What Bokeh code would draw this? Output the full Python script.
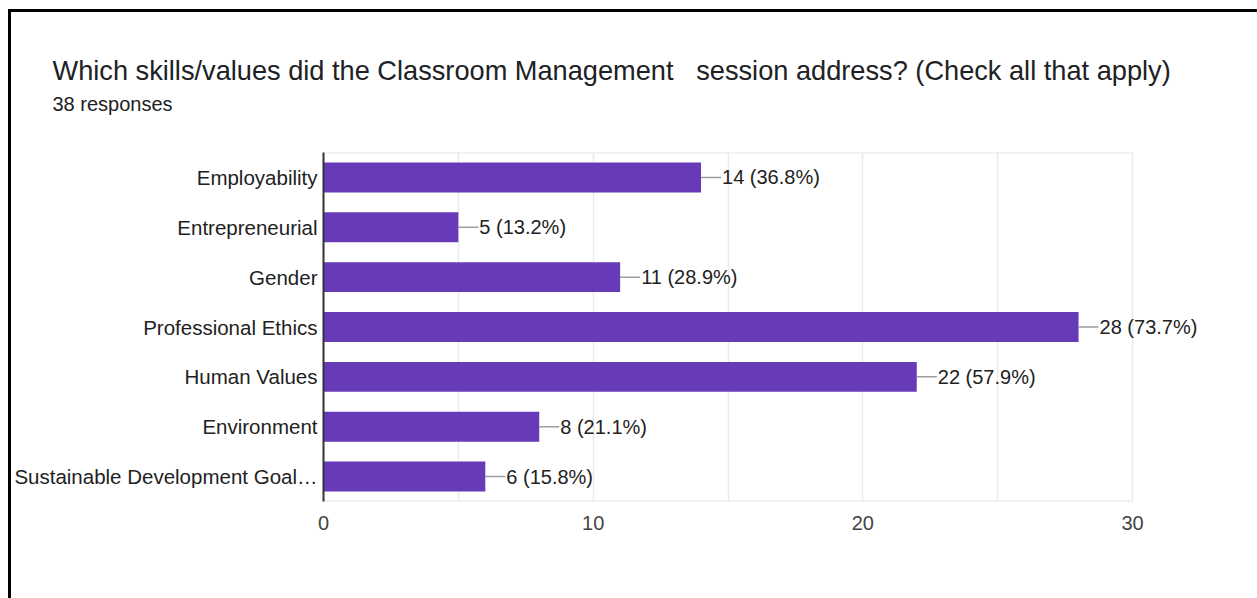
from bokeh.plotting import figure
from bokeh.models import Range1d, FactorRange, FixedTicker, Title, ColumnDataSource
from bokeh.layouts import column
from bokeh.embed import file_html
from bokeh.resources import INLINE
from bokeh.core.properties import value

categories = ["Employability", "Entrepreneurial", "Gender", "Professional Ethics",
              "Human Values", "Environment", "Sustainable Development Goal\u2026"]
counts = [14, 5, 11, 28, 22, 8, 6]
percents = [36.8, 13.2, 28.9, 73.7, 57.9, 21.1, 15.8]
x_ticks = [0, 10, 20, 30]
grid_ticks = [0, 5, 10, 15, 20, 25, 30]
title_text = "Which skills/values did the Classroom Management \u00a0 session address? (Check all that apply)"
subtitle_text = "38 responses"

FONT = "Liberation Sans"
PX_PER_UNIT = 809 / 30.0
labels = [f"{c} ({p:.1f}%)" for c, p in zip(counts, percents)]
src = ColumnDataSource(dict(cat=categories, cnt=counts, lab=labels,
                            x1=[c + 20 / PX_PER_UNIT for c in counts],
                            xt=[c + 21 / PX_PER_UNIT for c in counts]))

frame_w = 1246 - 312
p = figure(width=1246, height=586, output_backend="svg", toolbar_location=None,
           x_range=Range1d(0, frame_w / PX_PER_UNIT),
           y_range=FactorRange(factors=categories[::-1]),
           min_border_left=312, min_border_right=0, min_border_top=140,
           min_border_bottom=97)
p.hbar(y="cat", right="cnt", left=0, height=0.6, source=src,
       fill_color="#673ab7", line_color=None)
p.segment(x0="cnt", x1="x1", y0="cat", y1="cat", source=src,
          line_color="#9e9e9e", line_width=1.5)
p.text(x="xt", y="cat", text="lab", source=src, text_font=value(FONT),
       text_font_size="20px", text_color="#222222", text_baseline="middle")

# plot-area top and bottom border lines, spanning the grid
n = len(categories)
p.segment(x0=[grid_ticks[0]] * 2, x1=[grid_ticks[-1]] * 2, y0=[0, n], y1=[0, n],
          line_color="#e6e6e6", line_width=2)

p.outline_line_color = None
p.ygrid.grid_line_color = None
p.xgrid.ticker = FixedTicker(ticks=grid_ticks)
p.xgrid.grid_line_color = "#ebebeb"
p.xgrid.grid_line_width = 1.5

p.xaxis.ticker = FixedTicker(ticks=x_ticks)
p.xaxis.axis_line_color = None
p.xaxis.major_tick_line_color = None
p.xaxis.minor_tick_line_color = None
p.xaxis.major_label_standoff = 8
p.xaxis.major_label_text_font = FONT
p.xaxis.major_label_text_font_size = "20px"
p.xaxis.major_label_text_color = "#444444"

p.yaxis.axis_line_color = "#333333"
p.yaxis.axis_line_width = 2
p.yaxis.major_tick_line_color = None
p.yaxis.minor_tick_line_color = None
p.yaxis.major_label_standoff = 0
p.yaxis.major_label_text_font = FONT
p.yaxis.major_label_text_font_size = "20.5px"
p.yaxis.major_label_text_color = "#222222"

# spacer between the subtitle and the plot area
p.add_layout(Title(text=" ", text_font=FONT, text_font_size="1px",
                   align="left", offset=-271, standoff=35), "above")
p.add_layout(Title(text=subtitle_text, text_font=FONT, text_font_size="20px",
                   text_font_style="normal", text_color="#202124", align="left",
                   offset=-271, standoff=0), "above")
p.add_layout(Title(text=title_text, text_font=FONT, text_font_size="27.2px",
                   text_font_style="normal", text_color="#202124", align="left",
                   offset=-271, standoff=10), "above")

layout = column(p, styles={"margin-left": "8px", "margin-top": "9px",
                           "border-left": "3px solid #000", "border-top": "3px solid #000"})

open("out.html", "w").write(file_html(layout, INLINE))
